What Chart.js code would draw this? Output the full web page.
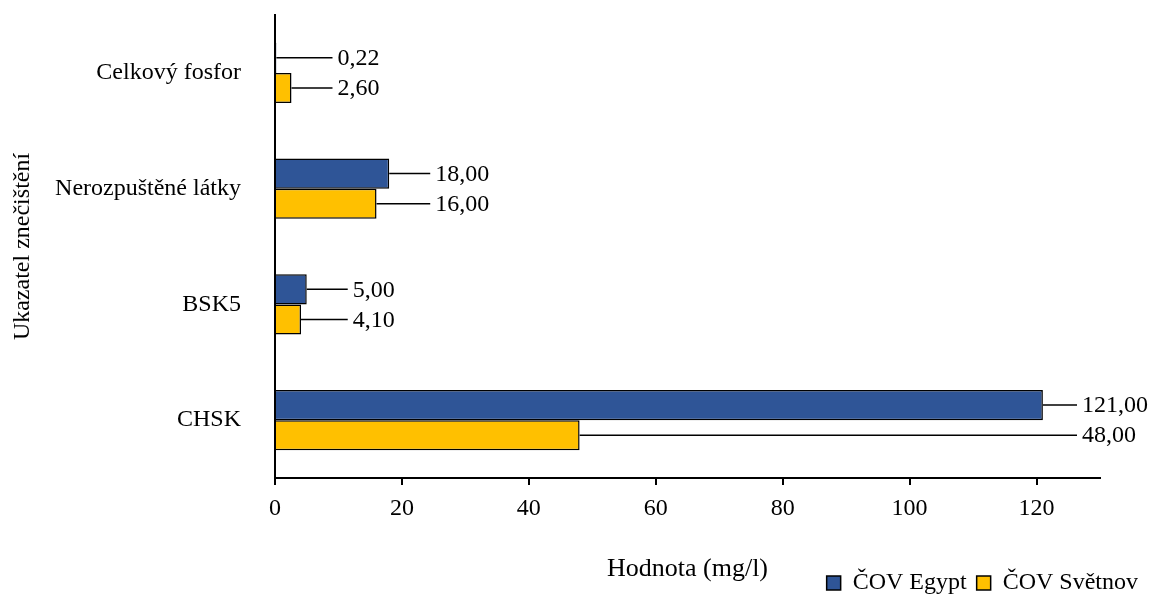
<!DOCTYPE html>
<html>
<head>
<meta charset="utf-8">
<script src="https://cdn.jsdelivr.net/npm/chart.js@4.4.1/dist/chart.umd.min.js"></script>
<style>
  html, body { margin: 0; padding: 0; background: #fff; overflow: hidden; }
  #wrap { width: 1158px; height: 594px; }
</style>
</head>
<body>
<div id="wrap"><canvas id="graf"></canvas></div>
<script>
// ukazatele a hodnoty (mg/l)
const kategorie = ['Celkový fosfor', 'Nerozpuštěné látky', 'BSK5', 'CHSK'];
const egypt = [0.22, 18, 5, 121];
const svetnov = [2.6, 16, 4.1, 48];
const nazvySerii = ['ČOV Egypt', 'ČOV Světnov'];
const osaXTicks = [0, 20, 40, 60, 80, 100, 120];

Chart.defaults.font.family = '"Liberation Serif", "Times New Roman", serif';
Chart.defaults.font.size = 24;
Chart.defaults.color = '#000';

function fmt(v) {
  return v.toFixed(2).replace('.', ',');
}

// popisky hodnot s vodici carou
const popisky = {
  id: 'popisky',
  afterDatasetsDraw(chart) {
    const ctx = chart.ctx;
    const xs = chart.scales.x;
    ctx.save();
    ctx.font = '24px "Liberation Serif", serif';
    ctx.fillStyle = '#000';
    ctx.strokeStyle = '#000';
    ctx.lineWidth = 1.5;
    ctx.textBaseline = 'middle';
    ctx.textAlign = 'left';
    kategorie.forEach((k, i) => {
      let maxEnd = 0;
      chart.data.datasets.forEach(ds => {
        maxEnd = Math.max(maxEnd, xs.getPixelForValue(ds.data[i]));
      });
      const lx = Math.min(maxEnd + 46, chart.width - 76);
      chart.data.datasets.forEach((ds, d) => {
        const el = chart.getDatasetMeta(d).data[i];
        ctx.beginPath();
        ctx.moveTo(el.x, el.y);
        ctx.lineTo(lx - 5, el.y);
        ctx.stroke();
        ctx.fillText(fmt(ds.data[i]), lx, el.y + 1);
      });
    });
    ctx.restore();
  }
};

new Chart(document.getElementById('graf'), {
  type: 'bar',
  data: {
    labels: kategorie,
    datasets: [
      { label: nazvySerii[0], data: egypt, backgroundColor: '#2F5597', borderColor: '#000', borderWidth: 1.5 },
      { label: nazvySerii[1], data: svetnov, backgroundColor: '#FFC000', borderColor: '#000', borderWidth: 1.5 }
    ]
  },
  options: {
    indexAxis: 'y',
    responsive: true,
    maintainAspectRatio: false,
    animation: false,
    devicePixelRatio: 1,
    categoryPercentage: 0.52,
    barPercentage: 1,
    layout: { padding: { top: 15, right: 10, bottom: -11, left: 8 } },
    plugins: {
      legend: {
        position: 'bottom',
        align: 'end',
        labels: {
          boxWidth: 14,
          boxHeight: 14,
          padding: 10,
          font: { size: 24 }
        }
      },
      tooltip: { enabled: false }
    },
    scales: {
      x: {
        type: 'linear',
        min: 0,
        max: 130,
        afterBuildTicks: s => { s.ticks = osaXTicks.map(v => ({ value: v })); },
        ticks: { padding: 9, font: { size: 24 } },
        grid: { display: true, drawOnChartArea: false, drawTicks: true, tickLength: 7, color: '#000', lineWidth: 2 },
        border: { display: true, color: '#000', width: 2 },
        title: { display: true, text: 'Hodnota (mg/l)', font: { size: 26 }, padding: { top: 0, bottom: -24 } },
        afterFit: s => { s.height = 83; }
      },
      y: {
        type: 'category',
        grid: { display: false },
        border: { display: true, color: '#000', width: 2 },
        ticks: { padding: 26, font: { size: 24 } },
        title: { display: true, text: 'Ukazatel znečištění', font: { size: 24 }, padding: 0 },
        afterFit: s => { s.width = 267; s.paddingTop = 0; s.paddingBottom = 0; }
      },
      y2: {
        type: 'linear',
        axis: 'y',
        position: 'right',
        display: true,
        grid: { display: false },
        border: { display: false },
        ticks: { display: false },
        afterFit: s => { s.width = 48; s.paddingTop = 0; s.paddingBottom = 0; }
      }
    }
  },
  plugins: [popisky]
});
</script>
</body>
</html>
